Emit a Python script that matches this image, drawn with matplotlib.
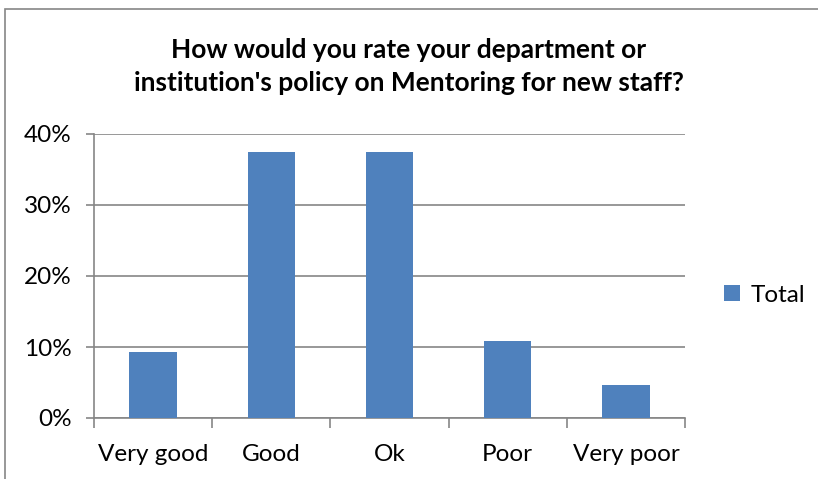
import matplotlib
matplotlib.use('Agg')
import matplotlib.pyplot as plt
from matplotlib.patches import Rectangle
from matplotlib.ticker import FixedLocator, PercentFormatter
import numpy as np

# Survey responses (share of respondents)
categories = ['Very good', 'Good', 'Ok', 'Poor', 'Very poor']
totals = [9.3, 37.5, 37.5, 10.8, 4.6]
y_ticks = [0, 10, 20, 30, 40]

plt.rcParams['font.family'] = ['Lato', 'DejaVu Sans']
bar_color = '#4F81BD'
axis_color = '#868686'

fig = plt.figure(figsize=(8.18, 4.79), dpi=100)

# chart area border (runs off the right and bottom edges)
fig.patches.append(Rectangle((5 / 818, -0.05), 1.0, 1 - 9 / 479 + 0.05,
                             transform=fig.transFigure, fill=False,
                             edgecolor=axis_color, linewidth=1.2))

ax = fig.add_axes([94 / 818, 61 / 479, 591 / 818, 284 / 479])
x = np.arange(len(categories))
ax.bar(x, totals, width=0.4, color=bar_color, label='Total', zorder=3)

ax.set_xlim(-0.5, len(categories) - 0.5)
ax.set_ylim(0, 40)
ax.set_yticks(y_ticks)
ax.yaxis.set_major_formatter(PercentFormatter(decimals=0))
ax.set_xticks(x)
ax.set_xticklabels(categories)
ax.xaxis.set_minor_locator(FixedLocator(np.arange(len(categories) + 1) - 0.5))

ax.grid(axis='y', color=axis_color, linewidth=1.2, zorder=0)
for side in ['top', 'right']:
    ax.spines[side].set_visible(False)
for side in ['left', 'bottom']:
    ax.spines[side].set_color(axis_color)
    ax.spines[side].set_linewidth(1.2)

ax.tick_params(axis='x', which='major', length=0, pad=19, labelsize=17.5)
ax.tick_params(axis='x', which='minor', length=7, width=1.2, color=axis_color)
ax.tick_params(axis='y', length=6, width=1.2, color=axis_color, pad=10, labelsize=17.5)

fig.text(0.5, 0.862, "How would you rate your department or\ninstitution's policy on Mentoring for new staff?",
         ha='center', va='center', fontsize=19, fontweight='bold', linespacing=1.45)

fig.legend(loc='center left', bbox_to_anchor=(724 / 818, 1 - 295 / 479), frameon=False,
           borderpad=0, borderaxespad=0, fontsize=17.5,
           handlelength=0.65, handleheight=0.65, handletextpad=0.45)

fig.savefig('out.png', dpi=100)
